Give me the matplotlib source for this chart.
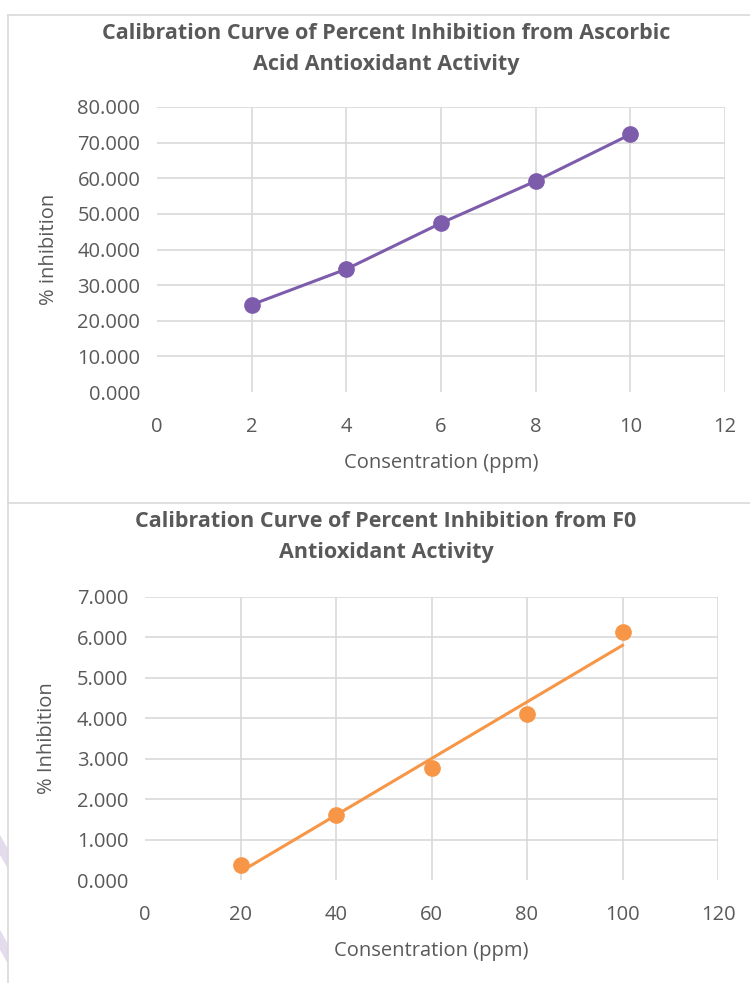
import numpy as np
import matplotlib
matplotlib.use("Agg")
import matplotlib.pyplot as plt
from matplotlib.lines import Line2D
from matplotlib.patches import Polygon

plt.rcParams['font.family'] = ['Open Sans', 'DejaVu Sans']

# ascorbic acid standard
aa_conc = [2, 4, 6, 8, 10]
aa_inhib = [24.5, 34.5, 47.4, 59.2, 72.3]
aa_xticks = [0, 2, 4, 6, 8, 10, 12]
aa_yticks = [0, 10, 20, 30, 40, 50, 60, 70, 80]

# F0 sample
f0_conc = [20, 40, 60, 80, 100]
f0_inhib = [0.38, 1.62, 2.78, 4.10, 6.14]
f0_xticks = [0, 20, 40, 60, 80, 100, 120]
f0_yticks = [0, 1, 2, 3, 4, 5, 6, 7]

purple = '#7E5CAC'
orange = '#F79646'
grid_c = '#D9D9D9'
text_c = '#595959'

fig = plt.figure(figsize=(7.5, 9.83), dpi=100)

# chart frame
W, H = 750.0, 983.0
frame = dict(color='#D9D9D9', lw=1.2, transform=fig.transFigure)
fig.lines.append(Line2D([8 / W, 8 / W], [0, 1 - 15 / H], **frame))
fig.lines.append(Line2D([8 / W, 1], [1 - 15 / H, 1 - 15 / H], **frame))
fig.lines.append(Line2D([8 / W, 1], [1 - 503 / H, 1 - 503 / H], **frame))
# faint watermark bits at left edge
for y0 in (835, 930):
    fig.patches.append(Polygon([[0, 1 - y0 / H], [8 / W, 1 - (y0 + 14) / H],
                                [8 / W, 1 - (y0 + 34) / H], [0, 1 - (y0 + 20) / H]],
                               closed=True, fc='#E4DCEC', ec='none',
                               transform=fig.transFigure))


def style(ax, xt, yt, xlim, ylim, ylab, ylab_x):
    ax.set_xlim(xlim)
    ax.set_ylim(ylim)
    for s in ax.spines.values():
        s.set_visible(False)
    for v in xt[1:]:
        ax.axvline(v, color=grid_c, lw=1.2, zorder=0)
    for v in yt[1:]:
        ax.axhline(v, color=grid_c, lw=1.2, zorder=0)
    ax.set_xticks(xt)
    ax.set_yticks(yt)
    ax.set_yticklabels(['%.3f' % v for v in yt])
    ax.tick_params(length=0, colors=text_c, labelsize=14.5)
    ax.tick_params(axis='x', pad=18)
    ax.tick_params(axis='y', pad=12)
    ax.set_xlabel('Consentration (ppm)', color=text_c, fontsize=14.5, va='center')
    ax.xaxis.set_label_coords(0.5, -0.25)
    ax.set_ylabel(ylab, color=text_c, fontsize=14.5, va='center')
    ax.yaxis.set_label_coords(ylab_x, 0.5)


ax1 = fig.add_axes([157 / W, 1 - 392 / H, 568 / W, 285 / H])
ax1.plot(aa_conc, aa_inhib, color=purple, lw=2.2, marker='o', ms=11, zorder=3)
style(ax1, aa_xticks, aa_yticks, (0, 12), (0, 80), '% inhibition', -0.19)
fig.text(386 / W, 1 - 49 / H,
         'Calibration Curve of Percent Inhibition from Ascorbic\nAcid Antioxidant Activity',
         ha='center', va='center', fontsize=15.5, fontweight='bold', color=text_c,
         linespacing=1.6)

ax2 = fig.add_axes([145 / W, 1 - 880 / H, 573 / W, 283 / H])
ax2.plot(f0_conc, f0_inhib, 'o', color=orange, ms=11, zorder=3)
k, b = np.polyfit(f0_conc, f0_inhib, 1)
xs = np.array([f0_conc[0], f0_conc[-1]])
ax2.plot(xs, k * xs + b, color=orange, lw=2.2, zorder=2)
style(ax2, f0_xticks, f0_yticks, (0, 120), (0, 7), '% Inhibition', -0.171)
fig.text(386 / W, 1 - 537 / H,
         'Calibration Curve of Percent Inhibition from F0\nAntioxidant Activity',
         ha='center', va='center', fontsize=15.5, fontweight='bold', color=text_c,
         linespacing=1.6)

fig.savefig('out.png', dpi=100)
